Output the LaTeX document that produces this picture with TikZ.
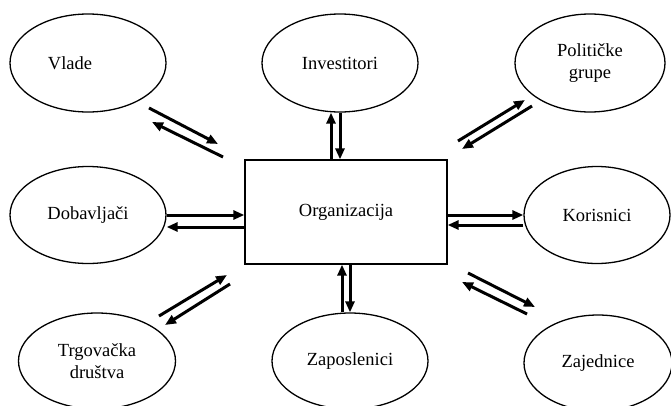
\documentclass[tikz,border=0pt]{standalone}
\usepackage{fontspec}
\setmainfont{Liberation Serif}
\usetikzlibrary{shapes.geometric,arrows.meta}
\begin{document}
\begin{tikzpicture}[x=1pt,y=-1pt,
  txt/.style={font=\rmfamily\fontsize{18.5}{22}\selectfont},
  party/.style={draw,ellipse,line width=1.3pt,inner sep=0pt,align=center,txt},
  orgbox/.style={draw,rectangle,line width=1.3pt,inner sep=0pt,txt},
  flow/.style={line width=3pt,-{Triangle[length=11pt,width=9pt]}}]
\useasboundingbox (0,0) rectangle (671,405);
\node[party,minimum width=156pt,minimum height=98pt,label={[txt,xshift=-18pt]center:Vlade}] (vla) at (88,63) {};
\node[party,minimum width=156pt,minimum height=98pt] (inv) at (340,63) {Investitori};
\node[party,minimum width=150pt,minimum height=98pt] (pol) at (590,63) {Političke\\grupe};
\node[party,minimum width=156pt,minimum height=97pt] (dob) at (88,215) {Dobavljači};
\node[orgbox,minimum width=202pt,minimum height=104pt] (org) at (346,212) {Organizacija};
\node[party,minimum width=146pt,minimum height=97pt] (kor) at (597,215) {Korisnici};
\node[party,minimum width=157pt,minimum height=96pt] (trg) at (97,361) {Trgovačka\\društva};
\node[party,minimum width=156pt,minimum height=96pt] (zap) at (350,361) {Zaposlenici};
\node[party,minimum width=148pt,minimum height=96pt] (zaj) at (598,363) {Zajednice};
% diagonal connector end points
\coordinate (v1) at (149,108); \coordinate (v2) at (218,144);
\coordinate (v3) at (223,157); \coordinate (v4) at (152,122);
\coordinate (p1) at (458,141); \coordinate (p2) at (525,100);
\coordinate (p3) at (532,106); \coordinate (p4) at (462,149);
\coordinate (t1) at (159,316); \coordinate (t2) at (227,275);
\coordinate (t3) at (230,284); \coordinate (t4) at (165,325);
\coordinate (z1) at (468,273); \coordinate (z2) at (535,307);
\coordinate (z3) at (527,314); \coordinate (z4) at (462,282);
\draw[flow] (v1) -- (v2);
\draw[flow] (v3) -- (v4);
\draw[flow] (p1) -- (p2);
\draw[flow] (p3) -- (p4);
\draw[flow] (t1) -- (t2);
\draw[flow] (t3) -- (t4);
\draw[flow] (z1) -- (z2);
\draw[flow] (z3) -- (z4);
% vertical
\draw[flow] ([xshift=-9pt]inv.south |- org.north) -- ([xshift=-9pt]inv.south);
\draw[flow] (inv.south) -- (inv.south |- org.north);
\draw[flow] ([xshift=-8pt]zap.north) -- ([xshift=-8pt]zap.north |- org.south);
\draw[flow] (zap.north |- org.south) -- (zap.north);
% horizontal
\draw[flow] (dob.east) -- (dob.east -| org.west);
\draw[flow] ([yshift=-12pt]dob.east -| org.west) -- ([yshift=-12pt]dob.east);
\draw[flow] (org.east |- kor.west) -- (kor.west);
\draw[flow] ([yshift=-10pt]kor.west) -- ([yshift=-10pt]org.east |- kor.west);
\end{tikzpicture}
\end{document}
